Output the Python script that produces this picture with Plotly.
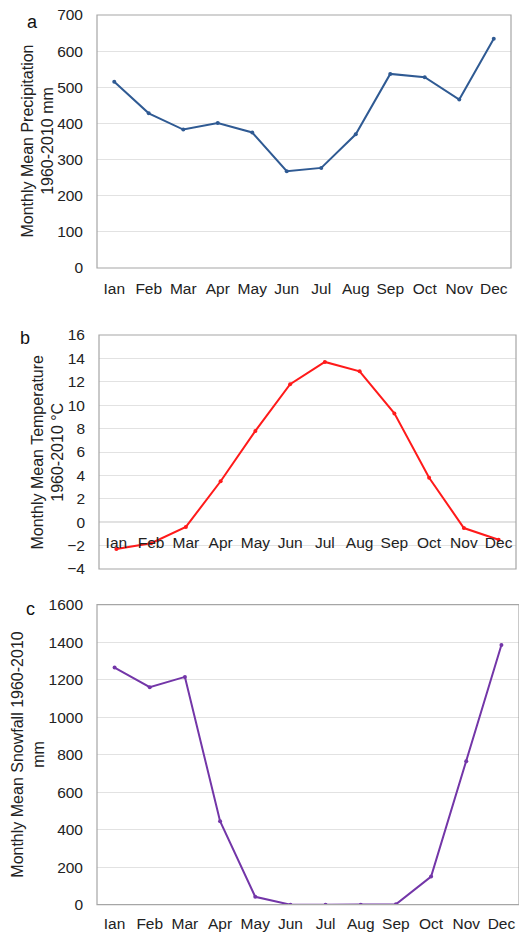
import plotly.graph_objects as go

# ---------------------------------
# data
# ---------------------------------
months = ["Ian", "Feb", "Mar", "Apr", "May", "Jun",
          "Jul", "Aug", "Sep", "Oct", "Nov", "Dec"]

precip = [515, 428, 383, 401, 375, 268, 277, 370, 537, 528, 466, 634]
temp = [-2.3, -1.8, -0.4, 3.5, 7.8, 11.8, 13.7, 12.9, 9.3, 3.8, -0.5, -1.5]
snow = [1265, 1160, 1215, 445, 42, 0, 0, 0, 2, 150, 765, 1385]

precip_ticks = [0, 100, 200, 300, 400, 500, 600, 700]
temp_ticks = [-4, -2, 0, 2, 4, 6, 8, 10, 12, 14, 16]
snow_ticks = [0, 200, 400, 600, 800, 1000, 1200, 1400, 1600]

W, H = 519, 932
FONT = "Liberation Sans, Arial, sans-serif"
GRID = "#e2e2e2"
BORDER = "#a6a6a6"
TXT = "#222222"


def px_x(p):
    return p / W


def px_y(p):
    return 1 - p / H


# pixel boxes of each plot area: (left, right, top, bottom)
boxes = {
    "a": (97, 511, 15, 268),
    "b": (99, 516, 335, 569),
    "c": (97, 520, 604.7, 904.7),
}

fig = go.Figure()

fig.add_trace(go.Scatter(
    x=months, y=precip, mode="lines+markers",
    line=dict(color="#2f5a93", width=2),
    marker=dict(size=4, color="#2f5a93"),
    xaxis="x", yaxis="y", showlegend=False
))
fig.add_trace(go.Scatter(
    x=months, y=temp, mode="lines+markers",
    line=dict(color="#ff1a1a", width=2),
    marker=dict(size=4, color="#ff1a1a"),
    xaxis="x2", yaxis="y2", showlegend=False
))
fig.add_trace(go.Scatter(
    x=months, y=snow, mode="lines+markers",
    line=dict(color="#7336a8", width=2),
    marker=dict(size=4, color="#7336a8"),
    xaxis="x3", yaxis="y3", showlegend=False
))

tick_font = dict(family=FONT, size=15.5, color=TXT)
title_font = dict(family=FONT, size=16, color=TXT)


def yaxis(box, rng, ticks, anchor):
    l, r, t, b = box
    return dict(
        domain=[px_y(b), px_y(t)], range=rng, tickvals=ticks,
        showgrid=True, gridcolor=GRID, gridwidth=1,
        zeroline=False, showline=False, ticks="",
        tickfont=tick_font, ticklabelstandoff=13,
        ticklabeloverflow="allow",
        automargin=False, fixedrange=True, anchor=anchor,
    )


def xaxis(box, anchor, standoff):
    l, r, t, b = box
    return dict(
        domain=[px_x(l), min(px_x(r), 1.0)], range=[-0.5, 11.5],
        type="category", showgrid=False, zeroline=False, showline=False,
        ticks="", tickfont=tick_font, ticklabelstandoff=standoff,
        ticklabeloverflow="allow",
        automargin=False, fixedrange=True, anchor=anchor,
    )


xa = xaxis(boxes["a"], "y", 9)
xb = xaxis(boxes["b"], "free", 9)
# category labels sit just under the zero line, as in the original
lb, rb, tb, bb = boxes["b"]
zero_px = tb + (bb - tb) * 16 / 20
xb["position"] = px_y(zero_px)
xc = xaxis(boxes["c"], "y3", 8)

fig.update_layout(
    width=W, height=H,
    margin=dict(l=0, r=0, t=0, b=0),
    paper_bgcolor="white", plot_bgcolor="white",
    font=dict(family=FONT),
    xaxis=xa, yaxis=yaxis(boxes["a"], [0, 700], precip_ticks, "x"),
    xaxis2=xb, yaxis2=yaxis(boxes["b"], [-4, 16], temp_ticks, "x2"),
    xaxis3=xc, yaxis3=yaxis(boxes["c"], [0, 1600], snow_ticks, "x3"),
)

# plot area borders
for xr, yr in [("x", "y"), ("x2", "y2"), ("x3", "y3")]:
    fig.add_shape(type="rect", xref=xr + " domain", yref=yr + " domain",
                  x0=0, x1=1, y0=0, y1=1,
                  line=dict(color=BORDER, width=1.2), layer="above")

# zero line in panel b
fig.add_shape(type="line", xref="x2 domain", yref="y2",
              x0=0, x1=1, y0=0, y1=0,
              line=dict(color="#c4c4c4", width=1.2), layer="below")

# y titles (two lines each)
ytitles = [
    ("Monthly Mean Precipitation<br>1960-2010 mm", 38, 141.5),
    ("Monthly Mean Temperature<br>1960-2010 °C", 47.5, 452),
    ("Monthly Mean Snowfall 1960-2010<br>mm", 28, 754.7),
]
for text, cx, cy in ytitles:
    fig.add_annotation(text=text, xref="paper", yref="paper",
                       x=px_x(cx), y=px_y(cy), showarrow=False,
                       textangle=-90, font=title_font,
                       xanchor="center", yanchor="middle")

# panel letters
letters = [("a", 32, 22), ("b", 25, 338), ("c", 30, 609)]
for text, cx, cy in letters:
    fig.add_annotation(text=text, xref="paper", yref="paper",
                       x=px_x(cx), y=px_y(cy), showarrow=False,
                       font=dict(family=FONT, size=18, color="#111111"),
                       xanchor="center", yanchor="middle")

# drop the default 8px body margin so the figure fills the window exactly
fig.write_html("out.html",
               config={"displayModeBar": False},
               post_script="document.body.style.margin = '0';")
